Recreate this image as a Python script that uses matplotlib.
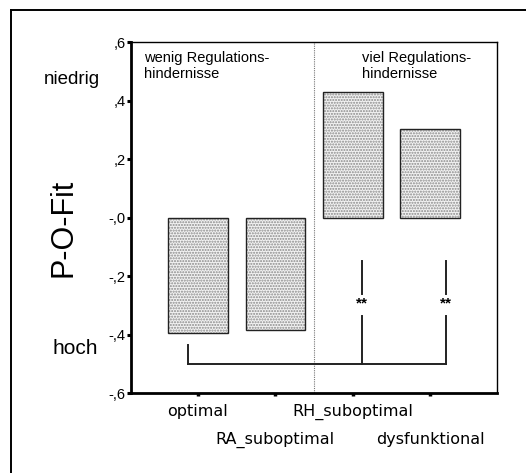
import numpy as np
import matplotlib.pyplot as plt
from matplotlib.lines import Line2D

plt.rcParams['font.family'] = ['Liberation Sans', 'DejaVu Sans']

# Data
categories = ['optimal', 'RA_suboptimal', 'RH_suboptimal', 'dysfunktional']
values = [-0.395, -0.385, 0.428, 0.302]
yticks = [0.6, 0.4, 0.2, 0.0, -0.2, -0.4, -0.6]
ytick_labels = [',6', ',4', ',2', '-,0', '-,2', '-,4', '-,6']

fig = plt.figure(figsize=(5.26, 4.73), dpi=100)
ax = fig.add_axes([0.249, 0.169, 0.696, 0.742])

x = np.arange(1, len(categories) + 1)
# stippled fill, then a black outline on top
ax.bar(x, values, width=0.77, color='#f2f2f2', edgecolor='#8a8a8a', hatch='......',
       linewidth=0, zorder=2)
ax.bar(x, values, width=0.77, fill=False, edgecolor='#222222', linewidth=1.0, zorder=3)

ax.set_xlim(1 - 0.865, 4 + 0.865)
ax.set_ylim(-0.6, 0.6)

# dotted separator between groups
ax.axvline(2.5, color='#777777', linestyle=(0, (1, 1)), linewidth=0.8, zorder=1)

# significance bracket
bl = -0.5
ax.plot([0.877, 4.21], [bl, bl], color='#222222', lw=1.4, zorder=3)
ax.plot([0.877, 0.877], [bl, -0.434], color='#222222', lw=1.4, zorder=3)
for xp in [3.12, 4.21]:
    ax.plot([xp, xp], [bl, -0.338], color='#222222', lw=1.4, zorder=3)
    ax.plot([xp, xp], [-0.26, -0.15], color='#222222', lw=1.4, zorder=3)
    ax.text(xp, -0.293, '**', ha='center', va='center', fontsize=11, fontweight='bold')

# group labels
ax.text(0.30, 0.57, 'wenig Regulations-\nhindernisse', ha='left', va='top', fontsize=10.5, linespacing=1.15)
ax.text(3.12, 0.57, 'viel Regulations-\nhindernisse', ha='left', va='top', fontsize=10.5, linespacing=1.15)

ax.set_yticks(yticks)
ax.set_yticklabels(ytick_labels, fontsize=10.5)

# category labels staggered over two rows
ax.set_xticks(x[0::2])
ax.set_xticklabels(categories[0::2], fontsize=11.5, family='DejaVu Sans')
ax.set_xticks(x[1::2], minor=True)
ax.set_xticklabels(categories[1::2], minor=True, fontsize=11.5, family='DejaVu Sans')
ax.tick_params(axis='y', length=3, width=2.2, pad=1, direction='out')
ax.tick_params(axis='x', which='major', length=2, width=2.5, pad=6, direction='out')
ax.tick_params(axis='x', which='minor', length=2, width=2.5, pad=26, direction='out')

for s in ['top', 'right']:
    ax.spines[s].set_linewidth(1.0)
for s in ['left', 'bottom']:
    ax.spines[s].set_linewidth(2.0)

# side annotations
fig.text(63 / 526, 1 - 228 / 473, 'P-O-Fit', rotation=90, ha='center', va='center', fontsize=22)
fig.text(72 / 526, 1 - 80 / 473, 'niedrig', ha='center', va='center', fontsize=13.5)
fig.text(75 / 526, 1 - 348 / 473, 'hoch', ha='center', va='center', fontsize=15)

# outer frame (only top and left visible)
fx = 11 / 526
fy = 1 - 10 / 473
fig.add_artist(Line2D([fx, fx], [0, fy], color='black', lw=1.4, transform=fig.transFigure))
fig.add_artist(Line2D([fx, 1], [fy, fy], color='black', lw=1.4, transform=fig.transFigure))

fig.savefig('out.png', dpi=100)
